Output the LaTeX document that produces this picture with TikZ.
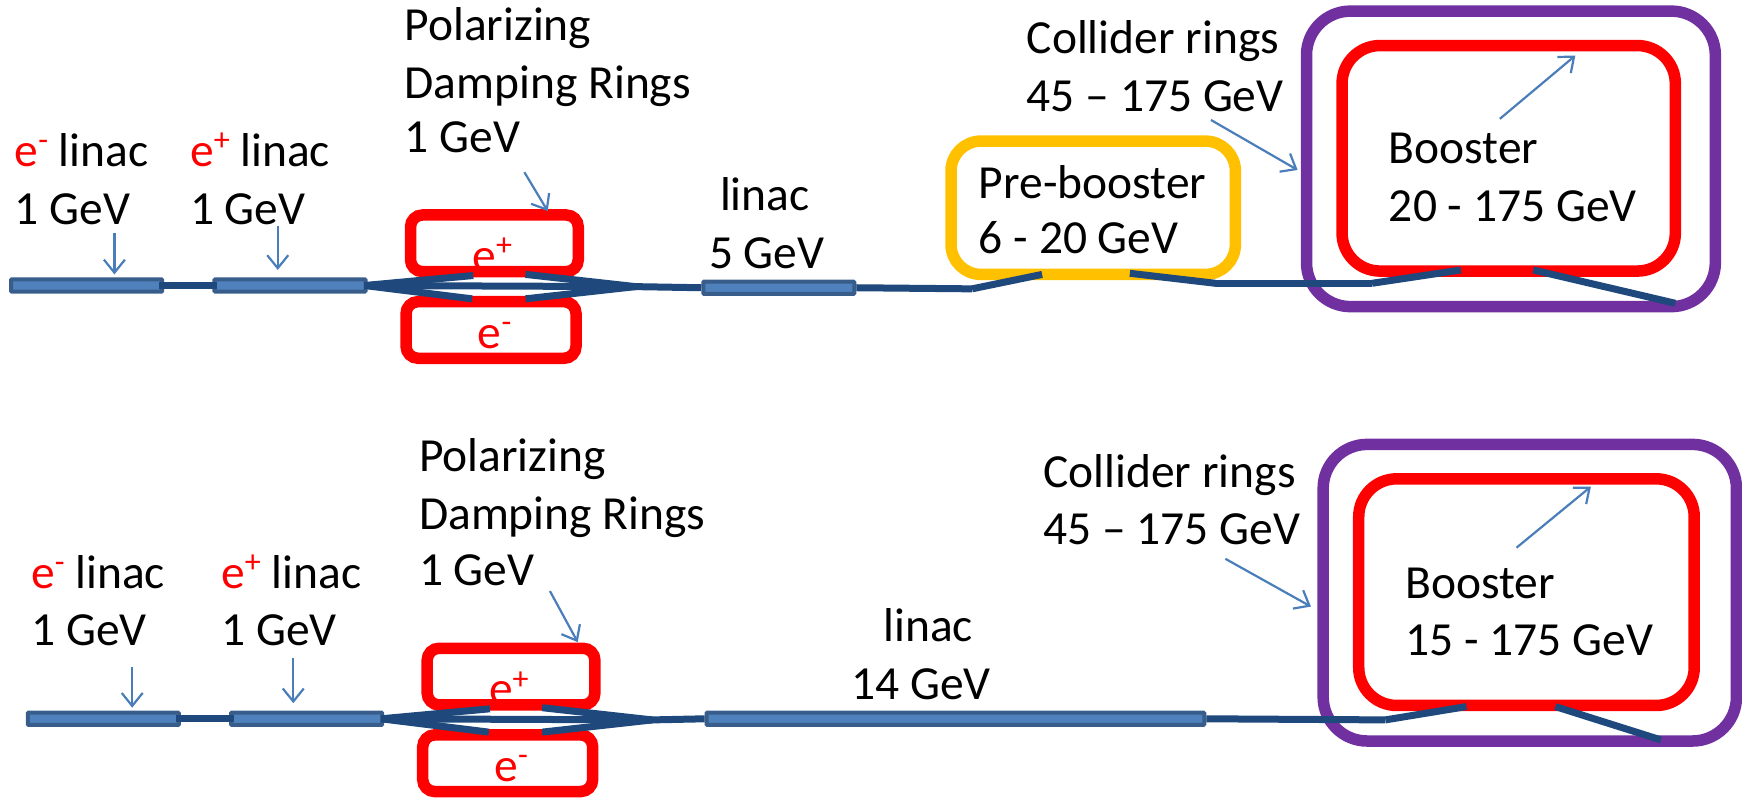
\documentclass[tikz,border=0pt]{standalone}
\usepackage{fontspec}
\setmainfont{Carlito}
\usetikzlibrary{arrows.meta,fit}
\definecolor{ringred}{HTML}{FF0000}
\definecolor{ringpurple}{HTML}{7030A0}
\definecolor{ringgold}{HTML}{FFC000}
\definecolor{beam}{HTML}{1F497D}
\definecolor{barfill}{HTML}{4F81BD}
\definecolor{barline}{HTML}{385D8A}
\definecolor{pointer}{HTML}{4A7EBB}
\newcommand{\esup}[1]{\raisebox{.33em}{\fontsize{32}{32}\selectfont #1}}
\newcommand{\ep}{\textcolor{ringred}{e\esup{+}}}
\newcommand{\en}{\textcolor{ringred}{e\esup{-}}}
\tikzset{
  x=1.111pt,y=-1.111pt,
  lbl/.style={anchor=base west,inner sep=0pt,yshift=-1.6pt,font=\fontsize{47.5}{57}\selectfont,text=black},
  ring/.style={draw,rounded corners=#1,inner sep=0pt},
  thin ring/.style={ring=12pt,draw=ringred,line width=11.5pt},
  big ring/.style={ring=44pt,line width=11.5pt},
  barbox/.style={draw=barline,fill=barfill,line width=4pt,rounded corners=0.8pt,inner sep=0pt},
  beamline/.style={draw=beam,line width=7pt},
  ptr/.style={draw=pointer,line width=2.2pt,-{Straight Barb[length=13pt,width=21pt,line width=2.2pt]}},
}
\begin{document}
\begin{tikzpicture}
\useasboundingbox (0,0) rectangle (1568,718.2);
% ---------- top row ----------
\coordinate (ta1) at (10,251.5); \coordinate (ta2) at (146,262.5);
\coordinate (tb1) at (193,251.5); \coordinate (tb2) at (329,262.5);
\coordinate (tc1) at (633,253.5); \coordinate (tc2) at (769,264.5);
\node[thin ring,fit={(369.5,193.5)(520.5,244.5)}] (tplus) {};
\node[thin ring,fit={(365.5,271.5)(518.5,322.5)}] (tminus) {};
\node[ring=30pt,draw=ringgold,fit={(856,127)(1112,247)},line width=11.5pt] (pre) {};
\node[big ring,draw=ringpurple,fit={(1176,10)(1544,276)}] (tcoll) {};
\node[ring=38pt,draw=ringred,fit={(1208,41)(1508,244)},line width=11.5pt] (tboost) {};
\node[barbox,fit=(ta1)(ta2)] (tbar1) {};
\node[barbox,fit=(tb1)(tb2)] (tbar2) {};
\node[barbox,fit=(tc1)(tc2)] (tbar3) {};
\node[lbl] (t1) at (364,35) {Polarizing};
\node[lbl] (t2) at (364,87) {Damping Rings};
\node[lbl] (t3) at (364,136) {1 GeV};
\node[lbl] (t4) at (13,148.5) {\en{} linac};
\node[lbl] (t5) at (13,201) {1 GeV};
\node[lbl] (t6) at (171,148.5) {\ep{} linac};
\node[lbl] (t7) at (171,201) {1 GeV};
\node[lbl] (t8) at (425,243) {\ep};
\node[lbl] (t9) at (430,312) {\en};
\node[lbl] (t10) at (648,188) {linac};
\node[lbl] (t11) at (638,240) {5 GeV};
\node[lbl] (t12) at (924,47) {Collider rings};
\node[lbl] (t13) at (924,99) {45 -- 175 GeV};
\node[lbl] (t14) at (881,177) {Pre-booster};
\node[lbl] (t15) at (881,227) {6 - 20 GeV};
\node[lbl] (t16) at (1250,146) {Booster};
\node[lbl] (t17) at (1250,198) {20 - 175 GeV};
% beam
\coordinate (tl1) at (426,248); \coordinate (tl2) at (425,269);
\coordinate (tl3) at (473,247); \coordinate (tl4) at (473,269);
\coordinate (tl5) at (572,258);
\coordinate (tj1) at (875,260); \coordinate (tj2) at (938,247);
\coordinate (tj3) at (1017,246); \coordinate (tj4) at (1094,255);
\coordinate (tj5) at (1235,255); \coordinate (tj6) at (1315,243);
\coordinate (tj7) at (1380,243); \coordinate (tj8) at (1508,273);
\draw[beamline] ([xshift=-5pt]tbar1.east) -- ([xshift=5pt]tbar2.west);
\draw[beamline] ([xshift=-3pt]tbar2.east) -- (tl5) -- (tbar3.west);
\draw[beamline] ([xshift=-3pt]tbar2.east) -- (tl1);
\draw[beamline] ([xshift=-3pt]tbar2.east) -- (tl2);
\draw[beamline] (tl5) -- (tl3);
\draw[beamline] (tl5) -- (tl4);
\draw[beamline] (tbar3.east) -- (tj1);
\draw[beamline] (tj1) -- (tj2);
\draw[beamline] (tj3) -- (tj4);
\draw[beamline] (tj4) -- (tj5);
\draw[beamline] (tj5) -- (tj6);
\draw[beamline] (tj7) -- (tj8);
% pointers
\coordinate (tp1) at (103,210); \coordinate (tp1e) at (103,247);
\coordinate (tp2) at (250,203); \coordinate (tp2e) at (250,243);
\coordinate (tp3) at (472,155); \coordinate (tp3e) at (493,190);
\coordinate (tp4) at (1090,108); \coordinate (tp4e) at (1168,153);
\coordinate (tp5) at (1350,107); \coordinate (tp5e) at (1418,50);
\draw[ptr] (tp1) -- (tp1e);
\draw[ptr] (tp2) -- (tp2e);
\draw[ptr] (tp3) -- (tp3e);
\draw[ptr] (tp4) -- (tp4e);
\draw[ptr] (tp5) -- (tp5e);
% ---------- bottom row ----------
\coordinate (ba1) at (25,641.5); \coordinate (ba2) at (161,652.5);
\coordinate (bb1) at (208,641.5); \coordinate (bb2) at (344,652.5);
\coordinate (bc1) at (636,641.5); \coordinate (bc2) at (1084,652.5);
\node[thin ring,fit={(384.5,583.5)(535.5,634.5)}] (bplus) {};
\node[thin ring,fit={(380.5,661.5)(533.5,712.5)}] (bminus) {};
\node[big ring,draw=ringpurple,fit={(1191,400)(1563,667)}] (bcoll) {};
\node[ring=38pt,draw=ringred,fit={(1223,431)(1525,635)},line width=11.5pt] (bboost) {};
\node[barbox,fit=(ba1)(ba2)] (bbar1) {};
\node[barbox,fit=(bb1)(bb2)] (bbar2) {};
\node[barbox,fit=(bc1)(bc2)] (bbar3) {};
\node[lbl] (b1) at (377,423) {Polarizing};
\node[lbl] (b2) at (377,475) {Damping Rings};
\node[lbl] (b3) at (377,526) {1 GeV};
\node[lbl] (b4) at (28,528) {\en{} linac};
\node[lbl] (b5) at (28,580) {1 GeV};
\node[lbl] (b6) at (199,528) {\ep{} linac};
\node[lbl] (b7) at (199,580) {1 GeV};
\node[lbl] (b8) at (440,633) {\ep};
\node[lbl] (b9) at (445,702) {\en};
\node[lbl] (b10) at (795,576) {linac};
\node[lbl] (b11) at (766,628) {14 GeV};
\node[lbl] (b12) at (939,437) {Collider rings};
\node[lbl] (b13) at (939,489) {45 -- 175 GeV};
\node[lbl] (b16) at (1265,537) {Booster};
\node[lbl] (b17) at (1265,589) {15 - 175 GeV};
% beam
\coordinate (bl1) at (441,638); \coordinate (bl2) at (440,659);
\coordinate (bl3) at (488,637); \coordinate (bl4) at (488,659);
\coordinate (bl5) at (587,648);
\coordinate (bj5) at (1247,648); \coordinate (bj6) at (1320,636);
\coordinate (bj7) at (1400,636); \coordinate (bj8) at (1495,666);
\draw[beamline] ([xshift=-5pt]bbar1.east) -- ([xshift=5pt]bbar2.west);
\draw[beamline] ([xshift=-3pt]bbar2.east) -- (bl5) -- (bbar3.west);
\draw[beamline] ([xshift=-3pt]bbar2.east) -- (bl1);
\draw[beamline] ([xshift=-3pt]bbar2.east) -- (bl2);
\draw[beamline] (bl5) -- (bl3);
\draw[beamline] (bl5) -- (bl4);
\draw[beamline] (bbar3.east) -- (bj5);
\draw[beamline] (bj5) -- (bj6);
\draw[beamline] (bj7) -- (bj8);
% pointers
\coordinate (bp1) at (119,600); \coordinate (bp1e) at (119,637);
\coordinate (bp2) at (264,592); \coordinate (bp2e) at (264,633);
\coordinate (bp3) at (495,532); \coordinate (bp3e) at (520,578);
\coordinate (bp4) at (1103,503); \coordinate (bp4e) at (1180,546);
\coordinate (bp5) at (1365,493); \coordinate (bp5e) at (1432,438);
\draw[ptr] (bp1) -- (bp1e);
\draw[ptr] (bp2) -- (bp2e);
\draw[ptr] (bp3) -- (bp3e);
\draw[ptr] (bp4) -- (bp4e);
\draw[ptr] (bp5) -- (bp5e);
\end{tikzpicture}
\end{document}
